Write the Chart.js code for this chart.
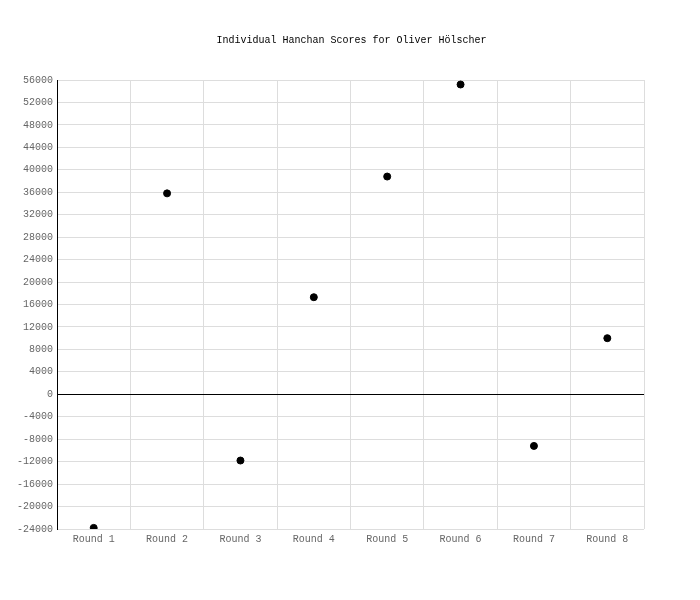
<!DOCTYPE html>
<html>
<head>
<meta charset="utf-8">
<script src="https://cdn.jsdelivr.net/npm/chart.js@4"></script>
<style>
html,body{margin:0;padding:0;background:#fff;}
#wrap{width:700px;height:600px;position:relative;}
</style>
</head>
<body>
<div id="wrap"><canvas id="c"></canvas></div>
<script>
const categories = ["Round 1","Round 2","Round 3","Round 4","Round 5","Round 6","Round 7","Round 8"];
const scores = [-23800, 35800, -11800, 17300, 38800, 55200, -9200, 10000];
const yMin = -24000, yMax = 56000, yStep = 4000;
const titleText = "Individual Hanchan Scores for Oliver Hölscher";

const FONT = "'Liberation Mono', 'DejaVu Sans Mono', monospace";

new Chart(document.getElementById('c'), {
  type: 'line',
  data: {
    labels: categories,
    datasets: [{
      label: 'Score',
      data: scores,
      showLine: false,
      pointRadius: 3.5,
      pointHoverRadius: 3.5,
      pointBackgroundColor: '#000',
      pointBorderColor: '#000',
      borderColor: '#000',
      backgroundColor: '#000',
      yAxisID: 'y'
    }]
  },
  options: {
    responsive: true,
    maintainAspectRatio: false,
    animation: false,
    layout: { padding: { top: 24, left: 13, right: 10, bottom: 51 } },
    plugins: {
      legend: { display: false },
      tooltip: { enabled: false },
      title: {
        display: true,
        text: titleText,
        color: '#000',
        font: { family: FONT, size: 10, weight: 'normal' },
        padding: { top: 10, bottom: 34 }
      }
    },
    scales: {
      x: {
        offset: true,
        grid: { offset: true, color: '#dddddd', lineWidth: 1, drawTicks: false },
        border: { display: false },
        ticks: { color: '#666', font: { family: FONT, size: 10 }, padding: 4 }
      },
      y: {
        min: yMin,
        max: yMax,
        ticks: {
          stepSize: yStep, color: '#666', font: { family: FONT, size: 10 }, padding: 4, autoSkip: false,
          callback: (v) => String(v)
        },
        grid: {
          color: (ctx) => (ctx.tick && ctx.tick.value === 0) ? '#000' : '#dddddd',
          lineWidth: 1,
          drawTicks: false
        },
        border: { display: true, color: '#000', width: 1 }
      },
      yr: {
        position: 'right',
        min: yMin,
        max: yMax,
        display: true,
        grid: { display: false, drawTicks: false },
        border: { display: false },
        ticks: { display: false },
        afterFit: (s) => { s.width = 46; }
      }
    }
  }
});
</script>
</body>
</html>
